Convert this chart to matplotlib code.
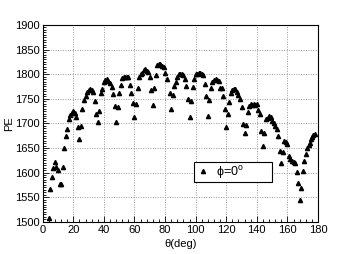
import matplotlib
matplotlib.use("Agg")
import matplotlib.pyplot as plt
from matplotlib.ticker import MultipleLocator

# PE versus polar angle, phi = 0 deg
theta = [4, 5, 6, 7, 8, 9, 10, 11, 12, 13, 14, 15, 16, 17, 18, 19, 20, 21, 22, 23,
         24, 25, 26, 27, 28, 29, 30, 31, 32, 33, 34, 35, 36, 37, 38, 39, 40, 41, 42, 43,
         44, 45, 46, 47, 48, 49, 50, 51, 52, 53, 54, 55, 56, 57, 58, 59, 60, 61, 62, 63,
         64, 65, 66, 67, 68, 69, 70, 71, 72, 73, 74, 75, 76, 77, 78, 79, 80, 81, 83, 84,
         85, 86, 87, 88, 89, 90, 91, 92, 93, 94, 95, 96, 97, 98, 99, 100, 101, 102, 103, 104,
         105, 106, 107, 108, 109, 110, 111, 112, 113, 114, 115, 116, 117, 118, 119, 120, 121, 122, 123, 124,
         125, 126, 127, 128, 129, 130, 131, 132, 133, 134, 135, 136, 137, 138, 139, 140, 141, 142, 143, 144,
         145, 146, 147, 148, 149, 150, 151, 152, 153, 154, 155, 156, 157, 158, 159, 160, 161, 162, 163, 164,
         165, 166, 167, 168, 169, 170, 171, 172.2, 173.1, 173.8, 174.5, 175.3, 176.1, 177, 177.9]
pe = [1508, 1566, 1591, 1609, 1621, 1612, 1605, 1577, 1576, 1612, 1649, 1674, 1689, 1708, 1717, 1722, 1725, 1722, 1712, 1692,
      1668, 1695, 1729, 1748, 1756, 1763, 1768, 1770, 1767, 1764, 1745, 1720, 1703, 1726, 1762, 1770, 1785, 1788, 1790, 1787,
      1783, 1773, 1759, 1736, 1703, 1733, 1762, 1779, 1793, 1795, 1795, 1794, 1794, 1778, 1762, 1742, 1712, 1739, 1772, 1794,
      1800, 1803, 1808, 1810, 1807, 1804, 1795, 1767, 1737, 1771, 1798, 1818, 1820, 1821, 1817, 1814, 1803, 1790, 1761, 1729,
      1757, 1776, 1784, 1794, 1800, 1800, 1800, 1799, 1790, 1776, 1750, 1713, 1746, 1774, 1790, 1800, 1801, 1803, 1803, 1800,
      1798, 1781, 1756, 1714, 1748, 1771, 1784, 1789, 1790, 1789, 1786, 1772, 1772, 1756, 1729, 1693, 1720, 1744, 1762, 1768,
      1770, 1769, 1764, 1757, 1749, 1733, 1699, 1680, 1697, 1724, 1735, 1739, 1737, 1740, 1737, 1739, 1727, 1720, 1685, 1655,
      1681, 1708, 1711, 1715, 1712, 1705, 1700, 1695, 1688, 1674, 1644, 1620, 1641, 1665, 1663, 1659, 1634, 1627, 1624, 1622,
      1620, 1602, 1579, 1544, 1568, 1604, 1623, 1638, 1649, 1656, 1661, 1668, 1672, 1676, 1678]

plt.rcParams['font.family'] = ['Liberation Sans', 'DejaVu Sans']
plt.rcParams['mathtext.fontset'] = 'custom'
plt.rcParams['mathtext.rm'] = 'Liberation Sans'
plt.rcParams['font.size'] = 8

fig = plt.figure(figsize=(3.54, 2.54), dpi=100)
ax = fig.add_axes([0.1206, 0.127, 0.7777, 0.7746])

ax.plot(theta, pe, linestyle='none', marker='^', ms=3.0, color='black',
        label='\u03d5=0$^{\\mathrm{o}}$')

ax.set_xlim(0, 180)
ax.set_ylim(1500, 1900)
ax.xaxis.set_major_locator(MultipleLocator(20))
ax.xaxis.set_minor_locator(MultipleLocator(4))
ax.yaxis.set_major_locator(MultipleLocator(50))
ax.yaxis.set_minor_locator(MultipleLocator(5))
ax.tick_params(which='both', direction='in', top=False, right=False, labelsize=8)
ax.tick_params(which='major', length=4.5, width=0.6, pad=2)
ax.tick_params(which='minor', length=2.2, width=0.6)
ax.grid(True, which='major', color='#999999', linestyle=(0, (1, 1.5)), linewidth=0.7)
for s in ax.spines.values():
    s.set_linewidth(0.8)

ax.set_xlabel('\u03b8(deg)', fontsize=8, labelpad=3)
ax.set_ylabel('PE', fontsize=8, labelpad=1)

leg = ax.legend(loc='lower left', bbox_to_anchor=(0.551, 0.2, 0.283, 0.1), mode='expand',
                fancybox=False, framealpha=1, edgecolor='black', fontsize=9,
                handlelength=1.0, handletextpad=0.6, borderpad=0.15, borderaxespad=0)
leg.get_frame().set_linewidth(0.8)

fig.savefig('out.png', dpi=100)
